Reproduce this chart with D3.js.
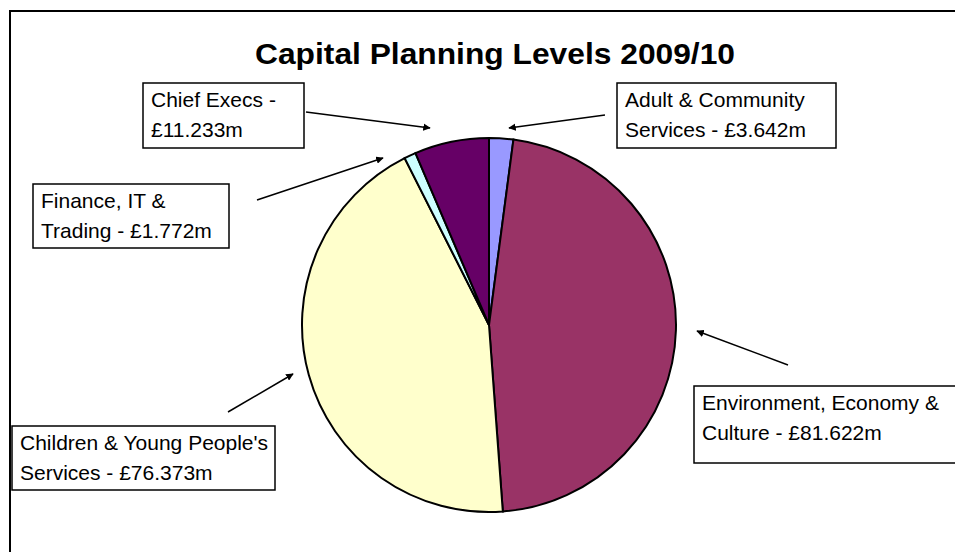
<!DOCTYPE html>
<html>
<head>
<meta charset="utf-8">
<script src="https://cdn.jsdelivr.net/npm/d3@7"></script>
<style>
  body { margin: 0; background: #fff; }
  text { font-family: "Liberation Sans", Arial, sans-serif; }
</style>
</head>
<body>
<div id="chart"></div>
<script>
// data, clockwise from 12 o'clock
const departments = ["Adult & Community Services", "Environment, Economy & Culture",
  "Children & Young People's Services", "Finance, IT & Trading", "Chief Execs"];
const amounts = [3.642, 81.622, 76.373, 1.772, 11.233];
const colours = ["#9999FF", "#993366", "#FFFFCC", "#CCFFFF", "#660066"];
const labelLines = [
  ["Adult & Community", "Services - £3.642m"],
  ["Environment, Economy &", "Culture - £81.622m"],
  ["Children & Young People's", "Services - £76.373m"],
  ["Finance, IT &", "Trading - £1.772m"],
  ["Chief Execs -", "£11.233m"]
];

const width = 955, height = 552;
const cx = 489, cy = 325, r = 187;

const svg = d3.select("#chart").append("svg")
  .attr("width", width).attr("height", height);

svg.append("defs").append("marker")
  .attr("id", "arrow").attr("viewBox", "0 0 10 10")
  .attr("refX", 9).attr("refY", 5)
  .attr("markerWidth", 5).attr("markerHeight", 5)
  .attr("orient", "auto")
  .append("path").attr("d", "M0,0 L10,5 L0,10 z").attr("fill", "#000");

// outer frame
svg.append("rect").attr("x", 10).attr("y", 11)
  .attr("width", 960).attr("height", 560)
  .attr("fill", "#fff").attr("stroke", "#000").attr("stroke-width", 2);

svg.append("text").attr("x", 495).attr("y", 64)
  .attr("text-anchor", "middle").attr("font-weight", "bold")
  .attr("font-size", 29).attr("textLength", 480).attr("lengthAdjust", "spacingAndGlyphs")
  .text("Capital Planning Levels 2009/10");

const pie = d3.pie().sort(null).value(d => d)(amounts);
const arc = d3.arc().innerRadius(0).outerRadius(r);

svg.append("g").attr("transform", `translate(${cx},${cy})`)
  .selectAll("path").data(pie).join("path")
  .attr("d", arc)
  .attr("fill", (d, i) => colours[i])
  .attr("stroke", "#000").attr("stroke-width", 2);

// label boxes [x, y, w, h] and leader arrows [x1, y1, x2, y2]
const boxes = [
  [617, 83, 219, 65],
  [694, 386, 262, 77],
  [12, 426, 263, 64],
  [33, 184, 196, 64],
  [143, 83, 161, 65]
];
const arrows = [
  [605, 115, 509, 128],
  [788, 365, 697, 331],
  [228, 412, 293, 374],
  [257, 200, 383, 158],
  [306, 112, 430, 128]
];

const labels = svg.append("g").selectAll("g").data(departments).join("g");
labels.append("rect")
  .attr("x", (d, i) => boxes[i][0]).attr("y", (d, i) => boxes[i][1])
  .attr("width", (d, i) => boxes[i][2]).attr("height", (d, i) => boxes[i][3])
  .attr("fill", "#fff").attr("stroke", "#000").attr("stroke-width", 1.5);
labels.each(function(d, i) {
  const t = d3.select(this).append("text")
    .attr("font-size", 21).attr("fill", "#000");
  labelLines[i].forEach((line, j) => {
    t.append("tspan").attr("x", boxes[i][0] + 8)
      .attr("y", boxes[i][1] + 24 + j * 30).text(line);
  });
});
labels.append("line")
  .attr("x1", (d, i) => arrows[i][0]).attr("y1", (d, i) => arrows[i][1])
  .attr("x2", (d, i) => arrows[i][2]).attr("y2", (d, i) => arrows[i][3])
  .attr("stroke", "#000").attr("stroke-width", 1.5)
  .attr("marker-end", "url(#arrow)");
</script>
</body>
</html>
